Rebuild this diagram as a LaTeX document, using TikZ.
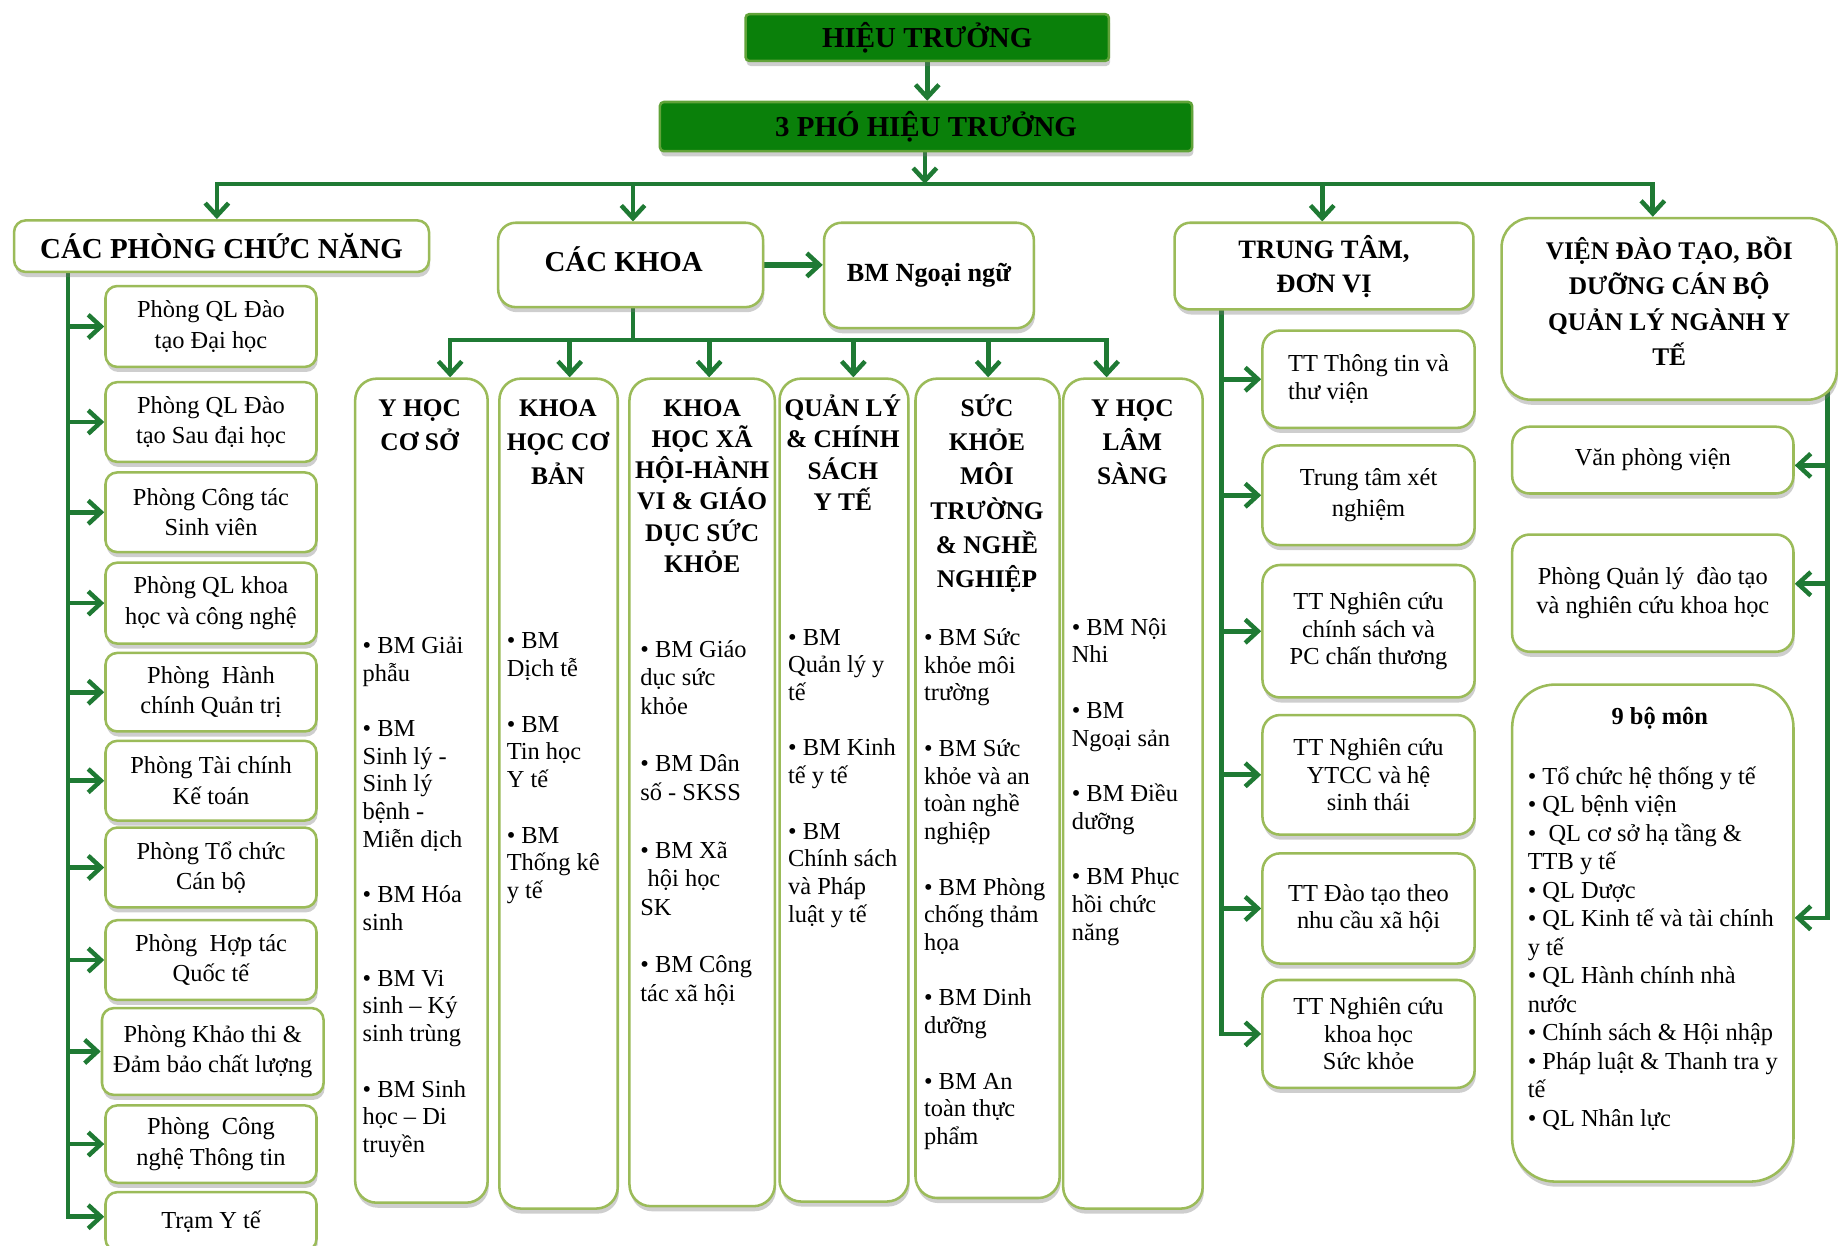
\documentclass[tikz,border=0pt]{standalone}
\usepackage{fontspec}
\setmainfont{Liberation Serif}
\usetikzlibrary{arrows.meta,shadows}
\definecolor{lgreen}{RGB}{31,122,52}
\definecolor{olivebd}{RGB}{155,187,89}
\definecolor{dgreen}{RGB}{10,128,10}
\pgfdeclarelayer{bg}
\pgfsetlayers{bg,main}
\begin{document}
\begin{tikzpicture}[x=0.6pt,y=-0.6pt,
  wh/.style 2 args={minimum width={#1*0.6pt},minimum height={#2*0.6pt}},
  box/.style={draw=olivebd,line width=1.3pt,fill=white,rounded corners=6pt,inner sep=0pt,align=center,
     drop shadow={shadow xshift=0.6pt,shadow yshift=-2.6pt,fill=black!55,opacity=0.35}},
  topbox/.style={box,fill=dgreen,draw=olivebd!60!dgreen,rounded corners=2pt,font=\bfseries\fontsize{14.8}{17}\selectfont},
  pbox/.style={box,font=\fontsize{12.5}{15.6}\selectfont},
  tbox/.style={box,rounded corners=9pt,font=\fontsize{12.5}{14.1}\selectfont},
  colbox/.style={box,rounded corners=11pt},
  hdr/.style={inner sep=0pt,align=center,font=\bfseries\fontsize{13}{17.4}\selectfont},
  bl/.style={inner sep=0pt,align=left,anchor=west,font=\fontsize{12.5}{14.2}\selectfont},
  ln/.style={draw=lgreen,line width=2.4pt},
  arr/.style={draw=lgreen,line width=2.4pt,-{Straight Barb[length=6.5pt,width=12pt,line width=2.3pt]}}
]
\useasboundingbox (0,0) rectangle (1568,1062.2);

% ---------- top ----------
\node[topbox,wh={310}{40}] (ht) at (791,32) {HIỆU TRƯỞNG};
\node[topbox,wh={454}{42}] (pht) at (790,108) {3 PHÓ HIỆU TRƯỞNG};

% ---------- second row ----------
\node[box,wh={354}{44},font=\bfseries\fontsize{14.8}{17}\selectfont] (cpcn) at (189,210) {CÁC PHÒNG CHỨC NĂNG};
\node[box,wh={226}{72},rounded corners=9pt] (ck) at (538,226) {};
\node[hdr,font=\bfseries\fontsize{14.8}{17}\selectfont] (ckt) at (532,221) {CÁC KHOA};
\node[box,wh={179}{90},rounded corners=9pt,font=\bfseries\fontsize{13.4}{16}\selectfont] (nn) at (792.5,235) {BM Ngoại ngữ};
\node[box,wh={255}{74},rounded corners=8pt,font=\bfseries\fontsize{13.6}{17.4}\selectfont] (tt) at (1129.5,227) {TRUNG TÂM,\\ĐƠN VỊ};
\node[box,wh={286}{155},rounded corners=15pt] (vien) at (1424,263.5) {};
\node[hdr,font=\bfseries\fontsize{13}{18}\selectfont] (vient) at (1424,257) {VIỆN ĐÀO TẠO, BỒI\\DƯỠNG CÁN BỘ\\QUẢN LÝ NGÀNH Y\\TẾ};

% ---------- left: phong ----------
\node[pbox,wh={180}{69}] (p1) at (180,278.5) {Phòng QL Đào\\tạo Đại học};
\node[pbox,wh={180}{68}] (p2) at (180,360) {Phòng QL Đào\\tạo Sau đại học};
\node[pbox,wh={180}{68}] (p3) at (180,437) {Phòng Công tác\\Sinh viên};
\node[pbox,wh={180}{69}] (p4) at (180,514.5) {Phòng QL khoa\\học và công nghệ};
\node[pbox,wh={180}{67}] (p5) at (180,590.5) {Phòng~ Hành\\chính Quản trị};
\node[pbox,wh={180}{68}] (p6) at (180,666) {Phòng Tài chính\\Kế toán};
\node[pbox,wh={180}{68}] (p7) at (180,740) {Phòng Tổ chức\\Cán bộ};
\node[pbox,wh={180}{68}] (p8) at (180,819) {Phòng~ Hợp tác\\Quốc tế};
\node[pbox,wh={189}{74}] (p9) at (181.5,897) {Phòng Khảo thi \&\\Đảm bảo chất lượng};
\node[pbox,wh={180}{66}] (p10) at (180,976) {Phòng~ Công\\nghệ Thông tin};
\node[pbox,wh={180}{50}] (p11) at (180,1042) {Trạm Y tế};

% ---------- faculties ----------
\node[colbox,wh={113}{703}] (c1) at (359.5,674.5) {};
\node[colbox,wh={101}{708}] (c2) at (476.5,677) {};
\node[colbox,wh={124}{706}] (c3) at (599,676) {};
\node[colbox,wh={110}{702}] (c4) at (720,674) {};
\node[colbox,wh={123}{699}] (c5) at (842.5,672.5) {};
\node[colbox,wh={119}{708}] (c6) at (966.5,677) {};

\node[hdr] (h1) at (358,362.5) {Y HỌC\\CƠ SỞ};
\node[hdr] (h2) at (476,377) {KHOA\\HỌC CƠ\\BẢN};
\node[hdr,font=\bfseries\fontsize{13}{16}\selectfont] (h3) at (599,414.5) {KHOA\\HỌC XÃ\\HỘI-HÀNH\\VI \& GIÁO\\DỤC SỨC\\KHỎE};
\node[hdr,font=\bfseries\fontsize{13}{16}\selectfont] (h4) at (719,386) {QUẢN LÝ\\\& CHÍNH\\SÁCH\\Y TẾ};
\node[hdr,font=\bfseries\fontsize{13}{17.5}\selectfont] (h5) at (842,421) {SỨC\\KHỎE\\MÔI\\TRƯỜNG\\\& NGHỀ\\NGHIỆP};
\node[hdr] (h6) at (966,377) {Y HỌC\\LÂM\\SÀNG};

\node[bl] (b1) at (309,765.5) {• BM Giải\\phẫu\\[14.2pt]• BM\\Sinh lý -\\Sinh lý\\bệnh -\\Miễn dịch\\[14.2pt]• BM Hóa\\sinh\\[14.2pt]• BM Vi\\sinh – Ký\\sinh trùng\\[14.2pt]• BM Sinh\\học – Di\\truyền};
\node[bl] (b2) at (432,655.5) {• BM\\Dịch tễ\\[14.2pt]• BM\\Tin học\\Y tế\\[14.2pt]• BM\\Thống kê\\y tế};
\node[bl,font=\fontsize{12.5}{14.7}\selectfont] (b3) at (546,702) {• BM Giáo\\dục sức\\khỏe\\[14.7pt]• BM Dân\\số - SKSS\\[14.7pt]• BM Xã\\\hspace{0.3em}hội học\\SK\\[14.7pt]• BM Công\\tác xã hội};
\node[bl] (b4) at (672,664) {• BM\\Quản lý y\\tế\\[14.2pt]• BM Kinh\\tế y tế\\[14.2pt]• BM\\Chính sách\\và Pháp\\luật y tế};
\node[bl] (b5) at (788,758.5) {• BM Sức\\khỏe môi\\trường\\[14.2pt]• BM Sức\\khỏe và an\\toàn nghề\\nghiệp\\[14.2pt]• BM Phòng\\chống thảm\\họa\\[14.2pt]• BM Dinh\\dưỡng\\[14.2pt]• BM An\\toàn thực\\phẩm};
\node[bl] (b6) at (914,667) {• BM Nội\\Nhi\\[14.2pt]• BM\\Ngoại sản\\[14.2pt]• BM Điều\\dưỡng\\[14.2pt]• BM Phục\\hồi chức\\năng};

% ---------- centres ----------
\node[tbox,wh={181}{83},align=left] (t1) at (1167.5,323.5) {TT Thông tin và\\thư viện};
\node[tbox,wh={181}{85},font=\fontsize{12.5}{16}\selectfont] (t2) at (1167.5,422.5) {Trung tâm xét\\nghiệm};
\node[tbox,wh={181}{113}] (t3) at (1167.5,538.5) {TT Nghiên cứu\\chính sách và\\PC chấn thương};
\node[tbox,wh={181}{102}] (t4) at (1167.5,661) {TT Nghiên cứu\\YTCC và hệ\\sinh thái};
\node[tbox,wh={181}{94}] (t5) at (1167.5,775) {TT Đào tạo theo\\nhu cầu xã hội};
\node[tbox,wh={181}{92}] (t6) at (1167.5,882) {TT Nghiên cứu\\khoa học\\Sức khỏe};

% ---------- institute ----------
\node[tbox,wh={240}{57}] (v1) at (1410,392.5) {Văn phòng viện};
\node[tbox,wh={240}{100},font=\fontsize{12.5}{14.4}\selectfont] (v2) at (1410,506) {Phòng Quản lý~ đào tạo\\và nghiên cứu khoa học};
\node[box,wh={240}{424},rounded corners=22pt] (v3) at (1410,796) {};
\node[hdr,font=\bfseries\fontsize{12.5}{15}\selectfont] (v3t) at (1416,613) {9 bộ môn};
\node[bl,font=\fontsize{12.5}{14.6}\selectfont] (v3b) at (1303,809) {• Tổ chức hệ thống y tế\\• QL bệnh viện\\•\ \ QL cơ sở hạ tầng \&\\TTB y tế\\• QL Dược\\• QL Kinh tế và tài chính\\y tế\\• QL Hành chính nhà\\nước\\• Chính sách \& Hội nhập\\• Pháp luật \& Thanh tra y\\tế\\• QL Nhân lực};

% ---------- connectors ----------
\begin{pgfonlayer}{bg}
\coordinate (bus) at (789,157);
\coordinate (d1) at (185,157);
\coordinate (d2) at (540,157);
\coordinate (d3) at (1128,157);
\coordinate (d4) at (1410,157);
\draw[arr] (ht.south) -- (ht.south |- pht.north);
\draw[ln,line cap=rect] (d1) -- (d4);
\draw[arr] (pht.south -| bus) -- (bus);
\draw[arr] (d1) -- (d1 |- cpcn.north);
\draw[arr] (d2) -- (d2 |- ck.north);
\draw[arr] (d3) -- (d3 |- tt.north);
\draw[arr] (d4) -- (d4 |- vien.north);

\draw[arr,line width=3pt] (ck.east) -- (ck.east -| nn.west);

\coordinate (k0) at (540,290);
\coordinate (k1) at (384,290);
\coordinate (k2) at (486,290);
\coordinate (k3) at (605,290);
\coordinate (k4) at (728,290);
\coordinate (k5) at (843,290);
\coordinate (k6) at (944,290);
\draw[ln] (k0 |- ck.center) -- (k0);
\draw[ln,line cap=rect] (k1) -- (k6);
\foreach \i in {1,...,6}{\draw[arr] (k\i) -- (k\i |- c\i.north);}

\coordinate (lt1) at (58,1038);
\draw[arr] (lt1 |- cpcn.center) -- (lt1) -- (lt1 -| p11.west);
\foreach \i in {1,...,10}{\draw[arr] (lt1 |- p\i.west) -- (p\i.west);}

\coordinate (tt1) at (1042,882);
\draw[arr] (tt1 |- tt.center) -- (tt1) -- (tt1 -| t6.west);
\foreach \i in {1,...,5}{\draw[arr] (tt1 |- t\i.west) -- (t\i.west);}

\coordinate (vt1) at (1559,783);
\coordinate (vy1) at (1559,397);
\coordinate (vy2) at (1559,498);
\draw[arr] (vt1 |- vien.center) -- (vt1) -- (vt1 -| v3.east);
\draw[arr] (vy1) -- (vy1 -| v1.east);
\draw[arr] (vy2) -- (vy2 -| v2.east);
\end{pgfonlayer}
\end{tikzpicture}
\end{document}
